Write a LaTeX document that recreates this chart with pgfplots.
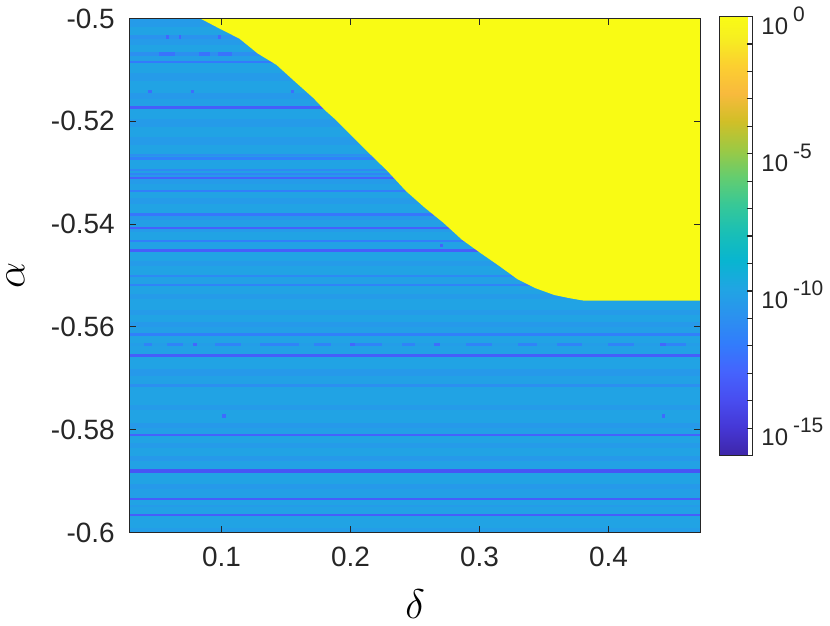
\documentclass[border=0pt]{standalone}
\usepackage{pgfplots}
\pgfplotsset{compat=1.18}
\usepackage{fontspec}
\setmainfont{Liberation Sans}

\definecolor{axgray}{RGB}{38,38,38}
\definecolor{pyellow}{RGB}{249,251,20}
\definecolor{pbase}{RGB}{33,163,226}

% parula, every 4th entry of parula(64)
\pgfplotsset{
  colormap={parula}{
    rgb255(0pt)=(62,38,168)
    rgb255(4pt)=(69,55,213)
    rgb255(8pt)=(72,77,240)
    rgb255(12pt)=(69,99,253)
    rgb255(16pt)=(50,124,252)
    rgb255(20pt)=(43,145,239)
    rgb255(24pt)=(32,165,227)
    rgb255(28pt)=(8,181,208)
    rgb255(32pt)=(25,191,182)
    rgb255(36pt)=(55,200,151)
    rgb255(40pt)=(100,205,111)
    rgb255(44pt)=(157,201,67)
    rgb255(48pt)=(209,191,39)
    rgb255(52pt)=(248,186,61)
    rgb255(56pt)=(252,207,48)
    rgb255(60pt)=(246,239,32)
    rgb255(63pt)=(249,251,21)
  },
  band/.style={surf, shader=flat corner, point meta=explicit},
}

\newcommand\tenp[1]{10\hspace{2.5pt}\raisebox{6.5pt}{\fontsize{10.5}{11}\selectfont #1}}

\begin{document}
\begin{tikzpicture}
\begin{axis}[
  scale only axis,
  width=286pt, height=257.5pt,
  xmin=0.02875, xmax=0.47125,
  ymin=-0.6, ymax=-0.5,
  xtick={0.1,0.2,0.3,0.4},
  ytick={-0.6,-0.58,-0.56,-0.54,-0.52,-0.5},
  tick align=inside,
  major tick length=3pt,
  axis line style={draw=axgray, line width=0.6pt},
  every tick/.style={draw=axgray, line width=0.6pt},
  ticklabel style={font=\fontsize{14}{16}\selectfont, text=axgray},
  /pgf/number format/assume math mode=true,
  xticklabel style={yshift=-4pt},
  yticklabel style={xshift=-4pt},
  xlabel={$\delta$},
  ylabel={$\alpha$},
  every axis x label/.style={at={(axis description cs:0.5,-0.14)}, anchor=center, font=\fontsize{22}{24}\selectfont},
  every axis y label/.style={at={(axis description cs:-0.2,0.5)}, rotate=90, anchor=center, font=\fontsize{22}{24}\selectfont},
  point meta min=-16, point meta max=0,
  colormap name=parula,
  axis background/.style={fill=pbase},
  axis on top,
  colorbar,
  colorbar style={
    at={(parent axis.north east)}, anchor=north west,
    xshift=1pt, yshift=1pt,
    scale only axis,
    width=16.5pt, height=220pt,
    ytick={-15,-10,-5,0},
    yticklabels={\tenp{-15},\tenp{-10},\tenp{-5},\tenp{0}},
    minor ytick={-16,-14,-13,-12,-11,-9,-8,-7,-6,-4,-3,-2,-1},
    tick align=inside,
    major tick length=2.5pt, minor tick length=2.5pt,
    ytick pos=right,
    yticklabel pos=right,
    axis line style={draw=axgray, line width=0.6pt},
    every tick/.style={draw=axgray, line width=0.6pt},
    yticklabel style={font=\fontsize{12}{13}\selectfont, text=axgray, xshift=1pt, yshift=-2pt},
  },
]

% horizontal bands: lower edge y, log10 of the value in the band above
\addplot[band, mesh/cols=2] table[x=x, y=y, meta=c] {
x y c
0.02875 -0.6000 -10.3
0.47125 -0.6000 -10.3
0.02875 -0.5990 -10.0
0.47125 -0.5990 -10.0
0.02875 -0.5967 -13.2
0.47125 -0.5967 -13.2
0.02875 -0.5962 -10.1
0.47125 -0.5962 -10.1
0.02875 -0.5950 -10.4
0.47125 -0.5950 -10.4
0.02875 -0.5945 -10.0
0.47125 -0.5945 -10.0
0.02875 -0.5936 -13.2
0.47125 -0.5936 -13.2
0.02875 -0.5931 -10.2
0.47125 -0.5931 -10.2
0.02875 -0.5915 -10.5
0.47125 -0.5915 -10.5
0.02875 -0.5905 -10.0
0.47125 -0.5905 -10.0
0.02875 -0.5883 -13.6
0.47125 -0.5883 -13.6
0.02875 -0.5876 -10.1
0.47125 -0.5876 -10.1
0.02875 -0.5860 -10.5
0.47125 -0.5860 -10.5
0.02875 -0.5850 -10.0
0.47125 -0.5850 -10.0
0.02875 -0.5835 -10.4
0.47125 -0.5835 -10.4
0.02875 -0.5825 -10.0
0.47125 -0.5825 -10.0
0.02875 -0.5812 -13.0
0.47125 -0.5812 -13.0
0.02875 -0.5807 -10.2
0.47125 -0.5807 -10.2
0.02875 -0.5795 -10.5
0.47125 -0.5795 -10.5
0.02875 -0.5785 -10.0
0.47125 -0.5785 -10.0
0.02875 -0.5760 -10.4
0.47125 -0.5760 -10.4
0.02875 -0.5750 -10.0
0.47125 -0.5750 -10.0
0.02875 -0.5715 -11.0
0.47125 -0.5715 -11.0
0.02875 -0.5710 -10.1
0.47125 -0.5710 -10.1
0.02875 -0.5695 -10.5
0.47125 -0.5695 -10.5
0.02875 -0.5680 -10.0
0.47125 -0.5680 -10.0
0.02875 -0.5657 -13.2
0.47125 -0.5657 -13.2
0.02875 -0.5652 -10.1
0.47125 -0.5652 -10.1
0.02875 -0.5637 -10.8
0.47125 -0.5637 -10.8
0.02875 -0.5632 -10.0
0.47125 -0.5632 -10.0
0.02875 -0.5616 -11.8
0.47125 -0.5616 -11.8
0.02875 -0.5611 -10.2
0.47125 -0.5611 -10.2
0.02875 -0.5600 -10.5
0.47125 -0.5600 -10.5
0.02875 -0.5590 -10.0
0.47125 -0.5590 -10.0
0.02875 -0.5575 -10.4
0.47125 -0.5575 -10.4
0.02875 -0.5565 -10.0
0.47125 -0.5565 -10.0
0.02875 -0.5545 -10.4
0.47125 -0.5545 -10.4
0.02875 -0.5535 -10.0
0.47125 -0.5535 -10.0
0.02875 -0.5520 -11.6
0.47125 -0.5520 -11.6
0.02875 -0.5515 -10.1
0.47125 -0.5515 -10.1
0.02875 -0.5502 -11.3
0.47125 -0.5502 -11.3
0.02875 -0.5497 -10.0
0.47125 -0.5497 -10.0
0.02875 -0.5480 -10.4
0.47125 -0.5480 -10.4
0.02875 -0.5470 -10.0
0.47125 -0.5470 -10.0
0.02875 -0.5453 -13.2
0.47125 -0.5453 -13.2
0.02875 -0.5448 -10.1
0.47125 -0.5448 -10.1
0.02875 -0.5434 -11.8
0.47125 -0.5434 -11.8
0.02875 -0.5429 -10.0
0.47125 -0.5429 -10.0
0.02875 -0.5415 -10.4
0.47125 -0.5415 -10.4
0.02875 -0.5409 -13.0
0.47125 -0.5409 -13.0
0.02875 -0.5404 -10.2
0.47125 -0.5404 -10.2
0.02875 -0.5390 -10.5
0.47125 -0.5390 -10.5
0.02875 -0.5383 -12.2
0.47125 -0.5383 -12.2
0.02875 -0.5378 -10.0
0.47125 -0.5378 -10.0
0.02875 -0.5360 -10.4
0.47125 -0.5360 -10.4
0.02875 -0.5348 -10.0
0.47125 -0.5348 -10.0
0.02875 -0.5337 -11.8
0.47125 -0.5337 -11.8
0.02875 -0.5332 -10.1
0.47125 -0.5332 -10.1
0.02875 -0.5320 -10.4
0.47125 -0.5320 -10.4
0.02875 -0.5312 -13.0
0.47125 -0.5312 -13.0
0.02875 -0.5307 -10.6
0.47125 -0.5307 -10.6
0.02875 -0.5304 -11.5
0.47125 -0.5304 -11.5
0.02875 -0.5299 -10.2
0.47125 -0.5299 -10.2
0.02875 -0.5296 -11.3
0.47125 -0.5296 -11.3
0.02875 -0.5291 -10.0
0.47125 -0.5291 -10.0
0.02875 -0.5275 -11.7
0.47125 -0.5275 -11.7
0.02875 -0.5269 -10.5
0.47125 -0.5269 -10.5
0.02875 -0.5267 -11.0
0.47125 -0.5267 -11.0
0.02875 -0.5262 -10.0
0.47125 -0.5262 -10.0
0.02875 -0.5245 -10.4
0.47125 -0.5245 -10.4
0.02875 -0.5230 -10.0
0.47125 -0.5230 -10.0
0.02875 -0.5210 -10.4
0.47125 -0.5210 -10.4
0.02875 -0.5195 -10.0
0.47125 -0.5195 -10.0
0.02875 -0.5174 -13.2
0.47125 -0.5174 -13.2
0.02875 -0.5169 -10.2
0.47125 -0.5169 -10.2
0.02875 -0.5155 -10.5
0.47125 -0.5155 -10.5
0.02875 -0.5144 -10.0
0.47125 -0.5144 -10.0
0.02875 -0.5120 -10.4
0.47125 -0.5120 -10.4
0.02875 -0.5105 -10.0
0.47125 -0.5105 -10.0
0.02875 -0.5086 -12.0
0.47125 -0.5086 -12.0
0.02875 -0.5081 -10.2
0.47125 -0.5081 -10.2
0.02875 -0.5071 -10.8
0.47125 -0.5071 -10.8
0.02875 -0.5066 -10.0
0.47125 -0.5066 -10.0
0.02875 -0.5050 -10.4
0.47125 -0.5050 -10.4
0.02875 -0.5038 -10.8
0.47125 -0.5038 -10.8
0.02875 -0.5033 -10.0
0.47125 -0.5033 -10.0
0.02875 -0.5015 -10.4
0.47125 -0.5015 -10.4
0.02875 -0.5000 -10.4
0.47125 -0.5000 -10.4
};

% speckled rows
\addplot[band, mesh/cols=8] table[x=x, y=y, meta=c] {
x y c
0.02875 -0.5038 -10.8
0.0569 -0.5038 -12.8
0.0592 -0.5038 -10.8
0.0669 -0.5038 -12.8
0.0692 -0.5038 -10.8
0.0979 -0.5038 -12.8
0.1002 -0.5038 -10.8
0.1300 -0.5038 -10.8
0.02875 -0.5033 -10.8
0.0569 -0.5033 -10.8
0.0592 -0.5033 -10.8
0.0669 -0.5033 -10.8
0.0692 -0.5033 -10.8
0.0979 -0.5033 -10.8
0.1002 -0.5033 -10.8
0.1300 -0.5033 -10.8
};
\addplot[band, mesh/cols=8] table[x=x, y=y, meta=c] {
x y c
0.02875 -0.5071 -11.0
0.0514 -0.5071 -12.3
0.0645 -0.5071 -11.0
0.0824 -0.5071 -12.3
0.0917 -0.5071 -11.0
0.0979 -0.5071 -12.3
0.1080 -0.5071 -11.0
0.1400 -0.5071 -11.0
0.02875 -0.5066 -11.0
0.0514 -0.5066 -11.0
0.0645 -0.5066 -11.0
0.0824 -0.5066 -11.0
0.0917 -0.5066 -11.0
0.0979 -0.5066 -11.0
0.1080 -0.5066 -11.0
0.1400 -0.5066 -11.0
};
\addplot[band, mesh/cols=8] table[x=x, y=y, meta=c] {
x y c
0.02875 -0.5144 -10.0
0.0434 -0.5144 -12.5
0.0460 -0.5144 -10.0
0.0764 -0.5144 -12.5
0.0790 -0.5144 -10.0
0.1540 -0.5144 -12.5
0.1565 -0.5144 -10.0
0.1800 -0.5144 -10.0
0.02875 -0.5140 -10.0
0.0434 -0.5140 -10.0
0.0460 -0.5140 -10.0
0.0764 -0.5140 -10.0
0.0790 -0.5140 -10.0
0.1540 -0.5140 -10.0
0.1565 -0.5140 -10.0
0.1800 -0.5140 -10.0
};
\addplot[band, mesh/cols=4] table[x=x, y=y, meta=c] {
x y c
0.2500 -0.5444 -10.1
0.2695 -0.5444 -13.0
0.2720 -0.5444 -10.1
0.2800 -0.5444 -10.1
0.2500 -0.5440 -10.1
0.2695 -0.5440 -10.1
0.2720 -0.5440 -10.1
0.2800 -0.5440 -10.1
};
\addplot[band, mesh/cols=32] table[x=x, y=y, meta=c] {
x y c
0.02875 -0.5637 -10.3
0.0400 -0.5637 -11.6
0.0460 -0.5637 -10.3
0.0580 -0.5637 -11.6
0.0700 -0.5637 -10.3
0.0780 -0.5637 -12.8
0.0810 -0.5637 -10.3
0.0950 -0.5637 -11.6
0.1150 -0.5637 -10.3
0.1300 -0.5637 -11.6
0.1600 -0.5637 -10.3
0.1720 -0.5637 -11.6
0.1850 -0.5637 -10.3
0.2000 -0.5637 -12.8
0.2040 -0.5637 -11.6
0.2250 -0.5637 -10.3
0.2400 -0.5637 -11.6
0.2500 -0.5637 -10.3
0.2650 -0.5637 -12.5
0.2700 -0.5637 -10.3
0.2900 -0.5637 -11.6
0.3100 -0.5637 -10.3
0.3300 -0.5637 -11.6
0.3450 -0.5637 -10.3
0.3600 -0.5637 -11.6
0.3800 -0.5637 -10.3
0.4000 -0.5637 -11.6
0.4200 -0.5637 -10.3
0.4400 -0.5637 -12.8
0.4450 -0.5637 -11.6
0.4600 -0.5637 -10.3
0.47125 -0.5637 -10.3
0.02875 -0.5632 -10.3
0.0400 -0.5632 -10.3
0.0460 -0.5632 -10.3
0.0580 -0.5632 -10.3
0.0700 -0.5632 -10.3
0.0780 -0.5632 -10.3
0.0810 -0.5632 -10.3
0.0950 -0.5632 -10.3
0.1150 -0.5632 -10.3
0.1300 -0.5632 -10.3
0.1600 -0.5632 -10.3
0.1720 -0.5632 -10.3
0.1850 -0.5632 -10.3
0.2000 -0.5632 -10.3
0.2040 -0.5632 -10.3
0.2250 -0.5632 -10.3
0.2400 -0.5632 -10.3
0.2500 -0.5632 -10.3
0.2650 -0.5632 -10.3
0.2700 -0.5632 -10.3
0.2900 -0.5632 -10.3
0.3100 -0.5632 -10.3
0.3300 -0.5632 -10.3
0.3450 -0.5632 -10.3
0.3600 -0.5632 -10.3
0.3800 -0.5632 -10.3
0.4000 -0.5632 -10.3
0.4200 -0.5632 -10.3
0.4400 -0.5632 -10.3
0.4450 -0.5632 -10.3
0.4600 -0.5632 -10.3
0.47125 -0.5632 -10.3
};
\addplot[band, mesh/cols=6] table[x=x, y=y, meta=c] {
x y c
0.02875 -0.5776 -10.0
0.1010 -0.5776 -12.6
0.1035 -0.5776 -10.0
0.4415 -0.5776 -12.6
0.4440 -0.5776 -10.0
0.47125 -0.5776 -10.0
0.02875 -0.5771 -10.0
0.1010 -0.5771 -10.0
0.1035 -0.5771 -10.0
0.4415 -0.5771 -10.0
0.4440 -0.5771 -10.0
0.47125 -0.5771 -10.0
};

% region where the value is of order one
\addplot[draw=none, fill=pyellow] coordinates {
(0.0836,-0.5000) (0.0980,-0.5019) (0.1138,-0.5039) (0.1280,-0.5068)
(0.1425,-0.5090) (0.1570,-0.5123) (0.1713,-0.5155) (0.1800,-0.5178)
(0.1885,-0.5197) (0.2000,-0.5226) (0.2144,-0.5262) (0.2287,-0.5297)
(0.2431,-0.5336) (0.2575,-0.5368) (0.2718,-0.5397) (0.2862,-0.5430)
(0.3006,-0.5456) (0.3150,-0.5481) (0.3293,-0.5507) (0.3437,-0.5525)
(0.3580,-0.5538) (0.3695,-0.5544) (0.3810,-0.5549) (0.47125,-0.5549)
(0.47125,-0.5000)
} -- cycle;

\end{axis}
\end{tikzpicture}
\end{document}
